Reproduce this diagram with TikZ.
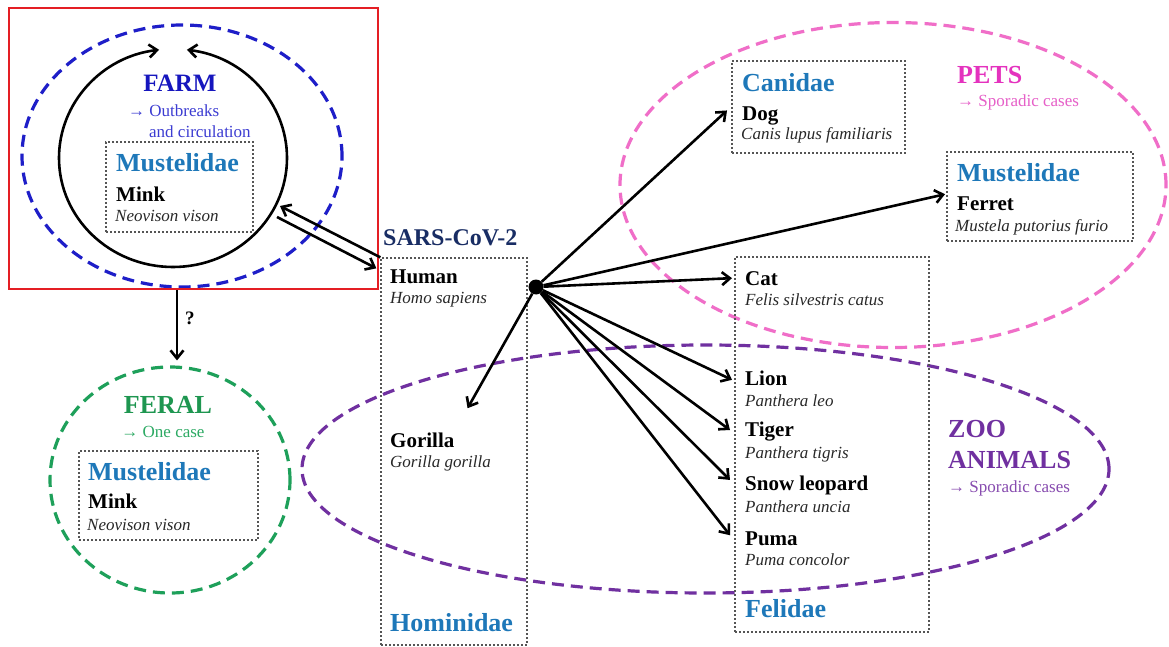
\documentclass[tikz,border=0pt]{standalone}
\usepackage{fontspec}
\setmainfont{Liberation Serif}
\usetikzlibrary{arrows.meta,shapes.geometric}
\definecolor{redc}{RGB}{228,30,36}
\definecolor{blueE}{RGB}{30,30,200}
\definecolor{farmT}{RGB}{22,22,190}
\definecolor{farmS}{RGB}{60,60,210}
\definecolor{famblue}{RGB}{30,120,185}
\definecolor{greenE}{RGB}{30,160,90}
\definecolor{greenT}{RGB}{30,150,80}
\definecolor{greenS}{RGB}{45,170,100}
\definecolor{pinkE}{RGB}{240,110,200}
\definecolor{pinkT}{RGB}{228,50,190}
\definecolor{pinkS}{RGB}{230,95,200}
\definecolor{purpE}{RGB}{112,48,160}
\definecolor{purpS}{RGB}{135,75,175}
\definecolor{navy}{RGB}{25,45,100}
\definecolor{boxg}{RGB}{85,85,85}
\definecolor{latg}{RGB}{40,40,40}
\begin{document}
\begin{tikzpicture}[x=1pt,y=-1pt,
  txt/.style={inner sep=0pt, anchor=base west},
  fam/.style={txt, font=\fontsize{26}{28}\selectfont\bfseries, text=famblue},
  spc/.style={txt, font=\fontsize{21}{24}\selectfont\bfseries, text=black},
  lat/.style={txt, font=\fontsize{17}{20}\selectfont\itshape, text=latg},
  head/.style={txt, font=\fontsize{26}{28}\selectfont\bfseries},
  subt/.style={txt, font=\fontsize{17}{20}\selectfont},
  dotbox/.style={draw=boxg, line width=1.3pt, dash pattern=on 2pt off 2pt, inner sep=0pt, rectangle},
  ell/.style={ellipse, line width=3.2pt, dash pattern=on 12pt off 7pt, inner sep=0pt},
  arr/.style={line width=2.6pt, -{Straight Barb[length=8pt,width=13pt]}}]
\useasboundingbox[fill=white] (0,0) rectangle (1169,647);

% ellipses
\node[ell, draw=pinkE, minimum width=546, minimum height=325] (petsell) at (893,185) {};
\node[ell, draw=purpE, minimum width=807, minimum height=248] (zooell) at (705.5,469) {};
\node[ell, draw=greenE, minimum width=240, minimum height=226] (feral) at (170,480) {};
\node[ell, draw=blueE, minimum width=320, minimum height=262] (farmell) at (182,156) {};

% red frame
\node[draw=redc, line width=2.4pt, rectangle, minimum width=369, minimum height=281, inner sep=0pt] (farmbox) at (193.5,148.5) {};

% dotted boxes
\node[dotbox, minimum width=147, minimum height=90] (farmin) at (179.5,187) {};
\node[dotbox, minimum width=179, minimum height=89] (feralin) at (168.5,495.5) {};
\node[dotbox, minimum width=146, minimum height=387] (hom) at (454,451.5) {};
\node[dotbox, minimum width=173, minimum height=92] (canbox) at (818.5,107) {};
\node[dotbox, minimum width=186, minimum height=89] (ferbox) at (1040,196.5) {};
\node[dotbox, minimum width=194, minimum height=375] (felbox) at (832,444.5) {};

% farm texts
\node[head, anchor=base, text=farmT, font=\fontsize{25}{28}\selectfont\bfseries] (farmt) at (180,92) {FARM};
\node[subt, text=farmS] (outb) at (128,117) {→ Outbreaks};
\node[subt, text=farmS] (circ) at (149,138) {and circulation};
\node[fam] (must1) at (116,172) {Mustelidae};
\node[spc] (mink1) at (116,201) {Mink};
\node[lat] (neo1) at (115,222) {Neovison vison};

% farm circulation circle
\draw[arr] (173,267) arc[start angle=90, end angle=263, x radius=114, y radius=109];
\draw[arr] (173,267) arc[start angle=90, end angle=-83, x radius=114, y radius=109];

% feral texts
\node[head, anchor=base, text=greenT] (feralt) at (168,413) {FERAL};
\node[subt, anchor=base, text=greenS] (onec) at (163,437) {→ One case};
\node[fam] (must2) at (88,480) {Mustelidae};
\node[spc] (mink2) at (88,508) {Mink};
\node[lat] (neo2) at (87,530) {Neovison vison};

% hominidae
\node[txt, font=\fontsize{24}{26}\selectfont\bfseries, text=navy] (sars) at (383,245) {SARS-CoV-2};
\node[spc] (human) at (390,283) {Human};
\node[lat] (homo) at (390,303) {Homo sapiens};
\node[spc] (gorilla) at (390,447) {Gorilla};
\node[lat] (gorg) at (390,467) {Gorilla gorilla};
\node[fam] (homt) at (390,631) {Hominidae};

% canidae / pets
\node[fam] (canid) at (742,92) {Canidae};
\node[spc] (dog) at (742,121) {Dog};
\node[lat] (canis) at (741,140) {Canis lupus familiaris};
\node[head, text=pinkT] (pets) at (957,84) {PETS};
\node[subt, text=pinkS] (spor1) at (957,107) {→ Sporadic cases};
\node[fam] (must3) at (957,182) {Mustelidae};
\node[spc] (ferret) at (957,210) {Ferret};
\node[lat] (mustela) at (955,231) {Mustela putorius furio};

% felidae
\node[spc] (cat) at (745,285) {Cat};
\node[lat] (felis) at (745,305) {Felis silvestris catus};
\node[spc] (lion) at (745,385) {Lion};
\node[lat] (pleo) at (745,406) {Panthera leo};
\node[spc] (tiger) at (745,436) {Tiger};
\node[lat] (ptig) at (745,458) {Panthera tigris};
\node[spc] (snow) at (745,490) {Snow leopard};
\node[lat] (punc) at (745,512) {Panthera uncia};
\node[spc] (puma) at (745,545) {Puma};
\node[lat] (pcon) at (745,565) {Puma concolor};
\node[fam] (felt) at (745,617) {Felidae};

% zoo
\node[head, text=purpE] (zoo) at (948,437) {ZOO};
\node[head, text=purpE] (anim) at (948,468) {ANIMALS};
\node[subt, text=purpS] (spor2) at (948,492) {→ Sporadic cases};

% hub
\node[circle, fill=black, inner sep=0pt, minimum size=15pt] (hub) at (536,287) {};

% connectors
\coordinate (m1) at (280,206);
\coordinate (m2) at (277,217);
\draw[arr] (hom.north west) -- (m1);
\draw[arr] (m2) -- ([shift={(-4,11)}]hom.north west);
\draw[arr] ([shift={(-16.5,0)}]farmbox.south) -- ([shift={(7,-5)}]feral.north);
\node[txt, font=\fontsize{19}{20}\selectfont\bfseries] (qm) at (185,324) {?};

\draw[arr] (hub) -- ([shift={(-15,-6)}]dog.west);
\draw[arr] (hub) -- ([shift={(-12,-9)}]ferret.west);
\draw[arr] (hub) -- ([shift={(-13,0)}]cat.west);
\draw[arr] (hub) -- ([shift={(-13,2)}]lion.west);
\draw[arr] (hub) -- ([shift={(-15,-1)}]tiger.west);
\draw[arr] (hub) -- ([shift={(-15,-5)}]snow.west);
\draw[arr] (hub) -- ([shift={(-15,-3)}]puma.west);
\draw[arr] (hub) -- ([shift={(13,-24)}]gorilla.north east);
\end{tikzpicture}
\end{document}
